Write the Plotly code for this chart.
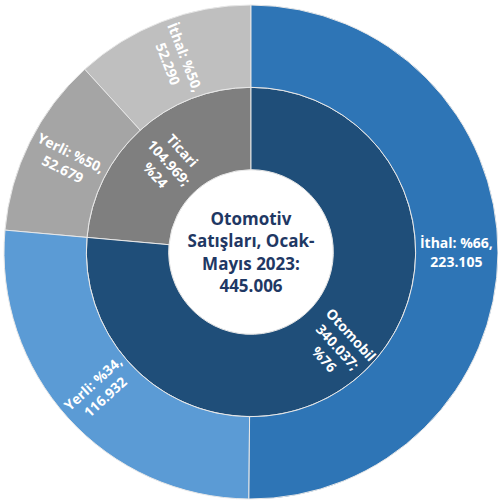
import math
import plotly.graph_objects as go

# Data
root_label = "Otomotiv Satışları, Ocak-Mayıs 2023"
groups = ["Ticari", "Otomobil"]
group_values = [104969, 340037]
sub_parents = ["Ticari", "Ticari", "Otomobil", "Otomobil"]
sub_labels = ["İthal", "Yerli", "Yerli", "İthal"]
sub_values = [52290, 52679, 116932, 223105]

group_colors = ["#7F7F7F", "#1F4E79"]
sub_colors = ["#BFBFBF", "#A5A5A5", "#5B9BD5", "#2E75B6"]


def fmt(v):
    return f"{v:,}".replace(",", ".")


total = sum(group_values)
ids = ["root"] + groups + [f"{p}-{l}" for p, l in zip(sub_parents, sub_labels)]
labels = [root_label] + groups + sub_labels
parents = [""] + ["root"] * len(groups) + sub_parents
values = [total] + group_values + sub_values

group_texts = [f"{g}<br>{fmt(v)};<br>%{round(100 * v / total)}" for g, v in zip(groups, group_values)]
gv = dict(zip(groups, group_values))
sub_texts = [f"{l}: %{round(100 * v / gv[p])},<br>{fmt(v)}" for p, l, v in zip(sub_parents, sub_labels, sub_values)]
root_text = "Otomotiv<br>Satışları, Ocak-<br>Mayıs 2023:<br>" + fmt(total)

# geometry of the sunburst domain (paper fractions)
W, H = 498, 501
dom_x = [0.008, 1.0]
dom_y = [0.004, 0.99]
cx = (dom_x[0] + dom_x[1]) / 2
cy = (dom_y[0] + dom_y[1]) / 2
R = min((dom_x[1] - dom_x[0]) * W, (dom_y[1] - dom_y[0]) * H) / 2

# large (> half circle) inner sectors: label them with a radially rotated annotation
annotations = []
shown_group_texts = []
start = 0.0  # counterclockwise from 12 o'clock
for g, v, t in zip(groups, group_values, group_texts):
    span = 360.0 * v / total
    if span > 180:
        mid_ccw = start + span / 2
        theta = 360.0 - mid_ccw  # clockwise from top
        r = R * 0.52
        ax = cx + r * math.sin(math.radians(theta)) / W
        ay = cy + r * math.cos(math.radians(theta)) / H
        annotations.append(dict(
            x=ax, y=ay, xref="paper", yref="paper", text=t, showarrow=False,
            xanchor="center", yanchor="middle",
            textangle=theta - 90,
            font=dict(family="Open Sans", size=14, color="#FFFFFF", weight="bold"),
        ))
        shown_group_texts.append(" ")
    else:
        shown_group_texts.append(t)
    start += span

texts = [root_text] + shown_group_texts + sub_texts
colors = ["#FFFFFF"] + group_colors + sub_colors
font_colors = ["#1F3864"] + ["#FFFFFF"] * 6
font_sizes = [17] + [14] * 6

fig = go.Figure(go.Sunburst(
    ids=ids, labels=labels, parents=parents, values=values,
    branchvalues="total", sort=False, rotation=90,
    text=texts, textinfo="text",
    insidetextorientation="radial",
    marker=dict(colors=colors, line=dict(color="#E8E8E8", width=1)),
    leaf=dict(opacity=1),
    textfont=dict(family="Open Sans", color=font_colors, size=font_sizes, weight="bold"),
    hoverinfo="skip",
    domain=dict(x=dom_x, y=dom_y),
))

fig.update_layout(
    width=W, height=H,
    margin=dict(l=0, r=0, t=0, b=0),
    paper_bgcolor="white",
    showlegend=False,
    annotations=annotations,
)

fig.write_html("out.html", config={"displayModeBar": False},
               post_script="document.body.style.margin='0';")
